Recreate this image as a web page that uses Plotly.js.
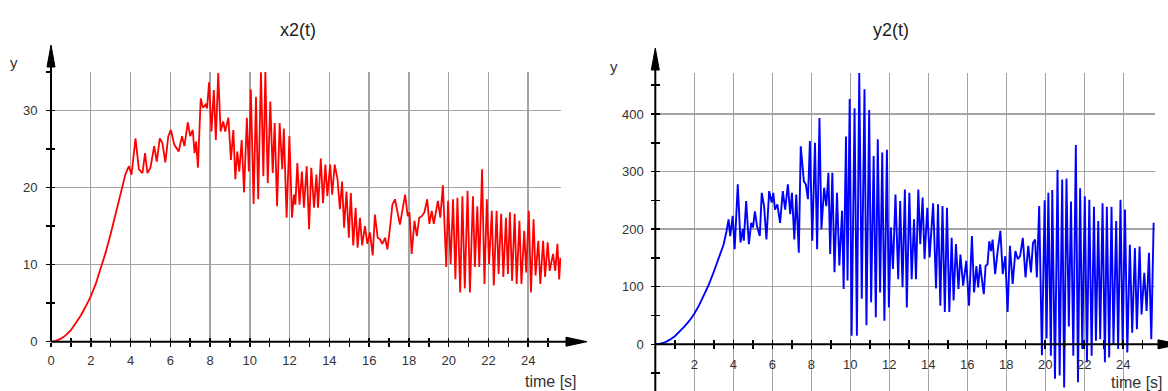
<!DOCTYPE html>
<html><head><meta charset="utf-8">
<script src="https://cdn.plot.ly/plotly-3.0.1.min.js"></script>
<style>html,body{margin:0;padding:0;background:#fff;}#chart{width:1168px;height:391px;}</style>
</head><body><div id="chart"></div>
<script>
// ---------- data ----------
const x2Time = [0,0.25,0.5,0.75,1,1.25,1.5,1.75,2,2.25,2.5,2.75,3,3.25,3.5,3.75,
3.92,4.05,4.25,4.42,4.6,4.73,4.85,5.0,5.19,5.32,5.47,5.6,5.75,5.9,6.03,6.2,6.42,6.59,6.71,6.88,7.0,7.13,7.22,7.3,7.39,7.53,7.64,7.78,7.85,7.95,8.07,8.19,8.29,8.41,8.53,8.66,8.76,8.92,9.05,9.17,9.27,9.37,9.47,9.59,9.71,9.85,9.95,
10.05,10.19,10.31,10.42,10.56,10.68,10.78,10.9,11.03,11.15,11.25,11.37,11.5,11.63,11.71,11.85,11.99,12.12,12.22,12.29,12.39,12.5,12.62,12.72,12.86,12.98,13.09,13.23,13.35,13.43,13.57,13.68,13.8,13.9,14.04,14.14,14.27,14.41,14.53,14.64,14.74,14.86,14.98,
15.08,15.2,15.32,15.42,15.54,15.65,15.79,15.91,16.04,16.18,16.29,16.43,16.55,16.66,16.8,16.92,17.05,17.17,17.3,17.42,17.55,17.67,17.81,17.94,18.03,18.14,18.28,18.4,18.52,18.65,18.78,18.92,19.03,19.15,19.25,19.46,19.58,19.71,19.88,19.97,
20.1,20.22,20.34,20.44,20.58,20.69,20.81,20.95,21.07,21.22,21.32,21.44,21.54,21.68,21.8,21.92,22.03,22.17,22.27,22.41,22.51,22.64,22.75,22.88,22.98,23.08,23.19,23.32,23.42,23.56,23.66,23.8,23.9,24.03,24.14,24.27,24.37,24.51,24.61,24.75,24.85,24.98,25.08,25.25,25.36,25.47,25.56,25.62];
const x2Value = [0,0.1,0.4,0.85,1.5,2.4,3.4,4.6,5.9,7.5,9.4,11.6,14.0,16.5,19.2,21.8,
22.8,21.7,26.4,22.4,21.9,24.5,21.9,22.6,25.4,23.4,26.4,25.8,23.3,26.7,27.5,25.6,24.7,26.7,25.4,28.5,26.7,27.5,24.5,26.0,22.6,31.6,30.4,30.8,30.3,33.7,27.3,32.7,26.2,34.9,27.3,28.6,27.3,29.1,23.6,27.5,21.1,24.7,22.1,26.2,19.4,29.1,22.1,
32.8,17.9,31.8,18.5,35.0,21.5,35.1,20.6,31.2,21.9,28.4,17.6,28.4,22.4,27.7,16.1,26.7,16.1,19.1,17.8,23.2,17.8,22.1,17.4,22.8,14.6,22.6,17.4,21.7,17.4,23.8,18.0,23.0,18.9,23.0,19.1,23.0,21.1,17.2,20.8,14.8,19.5,13.5,
19.3,12.5,17.4,12.2,16.1,12.5,15.0,12.7,14.2,11.2,16.5,13.5,13.3,12.7,13.5,12.0,14.8,17.8,18.5,17.0,15.2,17.0,19.1,16.3,16.8,11.4,15.7,13.7,16.1,16.3,16.8,18.5,15.3,17.0,15.3,18.3,16.1,20.3,9.7,18.3,
10.1,18.5,8.1,18.7,6.4,18.9,6.9,19.6,6.4,18.9,9.7,17.6,9.7,22.4,7.5,18.5,10.1,17.0,7.3,17.0,8.8,16.6,8.4,16.1,8.8,16.8,7.9,16.6,7.5,15.7,7.5,14.4,9.0,17.0,6.4,15.9,8.6,13.1,7.5,13.1,8.4,12.9,9.2,11.4,9.2,12.7,8.1,10.9];

const y2Time = [0,0.25,0.5,0.75,1,1.25,1.5,1.75,2,2.25,2.5,2.75,3,3.25,3.5,3.65,
3.76,3.84,3.97,4.07,4.23,4.37,4.49,4.54,4.66,4.8,4.92,5.01,5.11,5.22,5.36,5.46,5.58,5.7,5.84,5.97,6.05,6.14,6.26,6.4,6.54,6.66,6.8,6.92,7.01,7.13,7.23,7.36,7.46,7.62,7.72,7.83,7.93,8.05,8.19,8.3,8.42,8.52,8.66,8.77,8.88,8.97,9.08,9.19,9.32,9.44,9.58,9.66,9.78,9.86,9.97,
10.07,10.22,10.34,10.46,10.59,10.73,10.83,10.97,11.07,11.2,11.31,11.41,11.53,11.64,11.75,11.88,11.98,12.08,12.19,12.32,12.46,12.56,12.68,12.8,12.9,13.03,13.15,13.27,13.37,13.49,13.59,13.71,13.81,13.95,14.07,14.25,14.4,14.5,14.62,14.73,14.85,14.96,
15.08,15.2,15.3,15.42,15.55,15.65,15.79,15.95,16.09,16.24,16.35,16.47,16.56,16.66,16.75,16.85,16.94,17.04,17.13,17.22,17.3,17.43,17.57,17.7,17.82,17.95,18.07,18.19,18.33,18.47,18.59,18.71,18.85,18.99,19.13,19.27,19.37,19.48,19.57,19.69,19.83,19.97,
20.07,20.16,20.29,20.36,20.5,20.63,20.74,20.87,20.97,21.09,21.21,21.32,21.44,21.57,21.68,21.79,21.9,22.03,22.14,22.26,22.38,22.5,22.6,22.72,22.82,22.94,23.06,23.16,23.28,23.4,23.5,23.64,23.74,23.86,23.97,24.09,24.21,24.34,24.46,24.6,24.7,24.84,24.94,25.08,25.2,25.32,25.44,25.56];
const y2Value = [0,1,3.5,8,14,22,31,41,53,68,85,104,126,149,173,196,
217,188,223,165,278,177,200,180,249,174,211,203,231,205,188,263,240,182,266,246,263,234,243,211,266,234,278,226,263,182,260,159,344,283,278,252,353,180,350,165,393,200,272,240,298,157,298,125,263,137,232,96,361,111,426,
15,410,15,471,79,443,33,407,73,327,47,356,90,333,41,338,64,203,131,260,113,249,99,269,64,263,113,217,113,269,174,255,148,237,151,245,97,243,67,240,56,237,
56,185,76,174,96,156,102,145,67,188,90,136,99,139,113,87,136,139,179,162,182,122,165,197,122,153,56,171,105,162,148,153,185,116,171,125,176,182,116,240,-19,250,
10,263,-20,268,-60,303,-54,286,-75,288,31,248,-20,346,-66,271,-8,257,-31,251,-20,239,6,214,9,245,-31,239,-23,239,0,214,-8,251,-3,234,-14,173,20,167,26,170,52,124,58,159,9,211];

const leftXTicks = [0,2,4,6,8,10,12,14,16,18,20,22,24];
const leftXMinor = [1,3,5,7,9,11,13,15,17,19,21,23,25];
const leftYTicks = [0,10,20,30];
const leftYMinor = [5,15,25,35];
const rightXTicks = [2,4,6,8,10,12,14,16,18,20,22,24];
const rightXMinor = [1,3,5,7,9,11,13,15,17,19,21,23,25];
const rightYTicks = [0,100,200,300,400];
const rightYMinor = [-50,50,150,250,350,450];
const titles = ['x2(t)','y2(t)'];

// ---------- layout geometry ----------
const W = 1168, H = 391;
const px = v => v / W, py = v => 1 - v / H;
const L = {xd:[px(51), px(561)], yd:[py(341.7), py(72)], xr:[0,25.65], yr:[0,35.03]};
const R = {xd:[px(655.3), px(1155)], yd:[0, py(73)], xr:[0,25.63], yr:[-81.1,471.2]};
const rZero = R.yd[0] + (0 - R.yr[0]) / (R.yr[1] - R.yr[0]) * (R.yd[1] - R.yd[0]);
const lZero = L.yd[0];
const rZeroPx = (1 - rZero) * H, lZeroPx = (1 - lZero) * H;
const rX0px = R.xd[0] * W, lX0px = L.xd[0] * W;

const tickFont = {family:'Liberation Sans, Arial, sans-serif', size:13, color:'#333'};
const gridC = '#a3a3a3';

function ax(base, extra){ return Object.assign({
  showline:false, zeroline:false, showgrid:true, gridcolor:gridC, gridwidth:1.4,
  ticks:'outside', ticklen:4, tickwidth:1.5, tickcolor:'#000', tickfont:tickFont,
  tickmode:'array', fixedrange:true}, base, extra||{}); }
function minorTicks(vals, dir){ return {tickvals:vals, ticks:dir, ticklen:4, tickwidth:1.5, tickcolor:'#000', showgrid:false}; }

const layout = {
  width: W, height: H, margin:{l:0,r:0,t:0,b:0}, paper_bgcolor:'#fff', plot_bgcolor:'rgba(0,0,0,0)',
  showlegend:false,
  xaxis: ax({domain:L.xd, range:L.xr, anchor:'y', tickvals:leftXTicks, ticklabelstandoff:3, minor:minorTicks(leftXMinor,'outside')}),
  yaxis: ax({domain:L.yd, range:L.yr, anchor:'x', tickvals:leftYTicks, ticklabelstandoff:6, minor:minorTicks(leftYMinor,'outside')}),
  xaxis3: ax({domain:L.xd, range:L.xr, anchor:'y3', overlaying:'x', tickvals:leftXTicks, ticks:'inside', showticklabels:false, showgrid:false, minor:minorTicks(leftXMinor,'inside')}),
  yaxis3: ax({domain:L.yd, range:L.yr, anchor:'x3', overlaying:'y', tickvals:leftYTicks, ticks:'inside', showticklabels:false, showgrid:false, minor:minorTicks(leftYMinor,'inside')}),
  xaxis2: ax({domain:R.xd, range:R.xr, anchor:'free', position:rZero, tickvals:rightXTicks, ticklabelstandoff:4, minor:minorTicks(rightXMinor,'outside')}),
  yaxis2: ax({domain:R.yd, range:R.yr, anchor:'free', position:R.xd[0], tickvals:rightYTicks, ticklabelstandoff:5, minor:minorTicks(rightYMinor,'outside')}),
  xaxis4: ax({domain:R.xd, range:R.xr, anchor:'free', position:rZero, overlaying:'x2', tickvals:rightXTicks, ticks:'inside', showticklabels:false, showgrid:false, minor:minorTicks(rightXMinor,'inside')}),
  yaxis4: ax({domain:R.yd, range:R.yr, anchor:'free', position:R.xd[0], overlaying:'y2', tickvals:rightYTicks, ticks:'inside', showticklabels:false, showgrid:false, minor:minorTicks(rightYMinor,'inside')}),
  shapes: [],
  annotations: []
};

function lineShape(x0,y0,x1,y1){ return {type:'line', xref:'paper', yref:'paper', x0:px(x0), y0:py(y0), x1:px(x1), y1:py(y1), line:{color:'#000', width:2}, layer:'above'}; }
function triShape(pts){ const p = pts.map((q,i)=>(i?'L':'M')+px(q[0])+','+py(q[1])).join(' ')+' Z';
  return {type:'path', xref:'paper', yref:'paper', path:p, fillcolor:'#000', line:{color:'#000', width:1}, layer:'above'}; }

layout.shapes.push(lineShape(lX0px, lZeroPx, 568, lZeroPx));
layout.shapes.push(triShape([[566, lZeroPx-4.5],[587, lZeroPx],[566, lZeroPx+4.5]]));
layout.shapes.push(lineShape(lX0px, lZeroPx, lX0px, 64));
layout.shapes.push(triShape([[lX0px-4, 67],[lX0px, 45],[lX0px+4, 67]]));
layout.shapes.push(lineShape(rX0px, rZeroPx, 1160, rZeroPx));
layout.shapes.push(triShape([[1158, rZeroPx-4.5],[1180, rZeroPx],[1158, rZeroPx+4.5]]));
layout.shapes.push(lineShape(rX0px, 391, rX0px, 68));
layout.shapes.push(triShape([[rX0px-4, 70],[rX0px, 48],[rX0px+4, 70]]));

const lblFont = {family:'Liberation Sans, Arial, sans-serif', size:16, color:'#333'};
function ann(text, x, y, xanchor, font){ return {text, xref:'paper', yref:'paper', x:px(x), y:py(y), xanchor, yanchor:'middle', showarrow:false, font}; }
const titleFont = {family:'Liberation Sans, Arial, sans-serif', size:18, color:'#222'};
const yFont = {family:'Liberation Sans, Arial, sans-serif', size:15, color:'#333'};
layout.annotations.push(ann(titles[0], 298, 30, 'center', titleFont));
layout.annotations.push(ann(titles[1], 891, 30, 'center', titleFont));
layout.annotations.push(ann('y', 14, 62, 'center', yFont));
layout.annotations.push(ann('y', 614, 66, 'center', yFont));
layout.annotations.push(ann('time [s]', 523, 381, 'left', lblFont));
layout.annotations.push(ann('time [s]', 1165, 382, 'right', lblFont));

const data = [
  {x:x2Time, y:x2Value, type:'scatter', mode:'lines', xaxis:'x', yaxis:'y', line:{color:'#ff0000', width:1.8}, hoverinfo:'skip'},
  {x:y2Time, y:y2Value, type:'scatter', mode:'lines', xaxis:'x2', yaxis:'y2', line:{color:'#0000ff', width:1.9}, hoverinfo:'skip'},
  {x:[], y:[], type:'scatter', mode:'lines', xaxis:'x3', yaxis:'y3'},
  {x:[], y:[], type:'scatter', mode:'lines', xaxis:'x4', yaxis:'y4'}
];

Plotly.newPlot('chart', data, layout, {staticPlot:true, displayModeBar:false});
</script></body></html>
